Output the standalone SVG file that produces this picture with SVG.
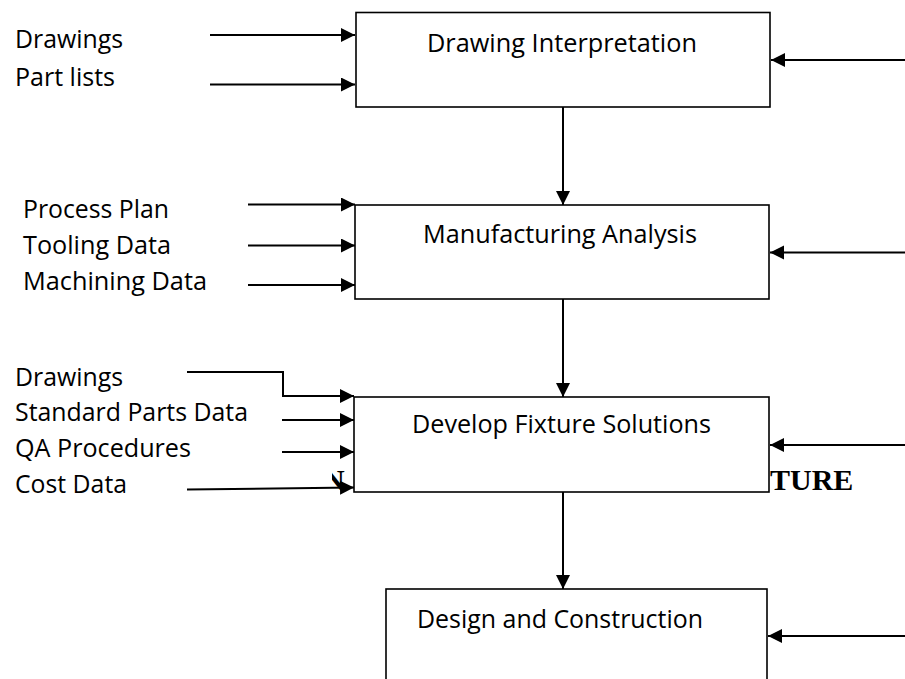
<svg xmlns="http://www.w3.org/2000/svg" width="905" height="679" viewBox="0 0 905 679">
  <style>
    .lbl { font-family: "Open Sans", "Noto Sans", sans-serif; font-size: 25px; fill: #000; }
    .ttl { font-family: "Open Sans", "Noto Sans", sans-serif; font-size: 25px; fill: #000; text-anchor: middle; }
    .bg { font-family: "Liberation Serif", serif; font-weight: bold; font-size: 30px; fill: #000; }
    .box { fill: #fff; stroke: #000; stroke-width: 1.6; }
    .conn { fill: none; stroke: #000; stroke-width: 2; marker-end: url(#ah); }
  </style>
  <defs>
    <marker id="ah" markerUnits="userSpaceOnUse" markerWidth="16" markerHeight="16" refX="14" refY="7" orient="auto">
      <path d="M0,0 L14,7 L0,14 z" fill="#000"/>
    </marker>
    <clipPath id="nclip"><rect x="332" y="440" width="40" height="70"/></clipPath>
  </defs>
  <rect width="905" height="679" fill="#fff"/>

  <g id="background-heading">
    <text class="bg" x="323" y="490" clip-path="url(#nclip)">N</text>
    <text class="bg" x="770" y="490">TURE</text>
  </g>

  <g id="node-drawing-interpretation">
    <rect class="box" x="356" y="12.5" width="414" height="94.5"/>
    <text class="ttl" x="562" y="52" textLength="270" lengthAdjust="spacingAndGlyphs">Drawing Interpretation</text>
  </g>
  <g id="node-manufacturing-analysis">
    <rect class="box" x="355" y="205" width="414" height="94"/>
    <text class="ttl" x="560" y="243" textLength="274" lengthAdjust="spacingAndGlyphs">Manufacturing Analysis</text>
  </g>
  <g id="node-develop-fixture-solutions">
    <rect class="box" x="354" y="397" width="415" height="95"/>
    <text class="ttl" x="561.5" y="433" textLength="299" lengthAdjust="spacingAndGlyphs">Develop Fixture Solutions</text>
  </g>
  <g id="node-design-construction">
    <rect class="box" x="386" y="589" width="381" height="110"/>
    <text class="ttl" x="560" y="628" textLength="286" lengthAdjust="spacingAndGlyphs">Design and Construction</text>
  </g>

  <g id="input-labels">
    <text class="lbl" x="15" y="48" textLength="108" lengthAdjust="spacingAndGlyphs">Drawings</text>
    <text class="lbl" x="15" y="86" textLength="100" lengthAdjust="spacingAndGlyphs">Part lists</text>
    <text class="lbl" x="23" y="218" textLength="146" lengthAdjust="spacingAndGlyphs">Process Plan</text>
    <text class="lbl" x="23" y="254" textLength="148" lengthAdjust="spacingAndGlyphs">Tooling Data</text>
    <text class="lbl" x="23" y="290" textLength="184" lengthAdjust="spacingAndGlyphs">Machining Data</text>
    <text class="lbl" x="15" y="386" textLength="108" lengthAdjust="spacingAndGlyphs">Drawings</text>
    <text class="lbl" x="15" y="421" textLength="233" lengthAdjust="spacingAndGlyphs">Standard Parts Data</text>
    <text class="lbl" x="15" y="457" textLength="176" lengthAdjust="spacingAndGlyphs">QA Procedures</text>
    <text class="lbl" x="15" y="493" textLength="112" lengthAdjust="spacingAndGlyphs">Cost Data</text>
  </g>

  <g id="connectors">
    <line class="conn" x1="210" y1="35" x2="355" y2="35"/>
    <line class="conn" x1="210" y1="84.5" x2="355" y2="84.5"/>
    <line class="conn" x1="248" y1="204.5" x2="355" y2="204.5"/>
    <line class="conn" x1="248" y1="245.5" x2="355" y2="245.5"/>
    <line class="conn" x1="248" y1="285" x2="355" y2="285"/>
    <polyline class="conn" points="187,372 283,372 283,396 354,396"/>
    <line class="conn" x1="282" y1="420" x2="354" y2="420"/>
    <line class="conn" x1="282" y1="452" x2="354" y2="452"/>
    <line class="conn" x1="187" y1="489.5" x2="354" y2="487.5"/>
    <line class="conn" x1="563" y1="107" x2="563" y2="205"/>
    <line class="conn" x1="563" y1="299" x2="563" y2="397"/>
    <line class="conn" x1="563" y1="492" x2="563" y2="589"/>
    <line class="conn" x1="905" y1="60" x2="771" y2="60"/>
    <line class="conn" x1="905" y1="252.5" x2="770" y2="252.5"/>
    <line class="conn" x1="905" y1="445" x2="770" y2="445"/>
    <line class="conn" x1="905" y1="636" x2="768" y2="636"/>
  </g>
</svg>
